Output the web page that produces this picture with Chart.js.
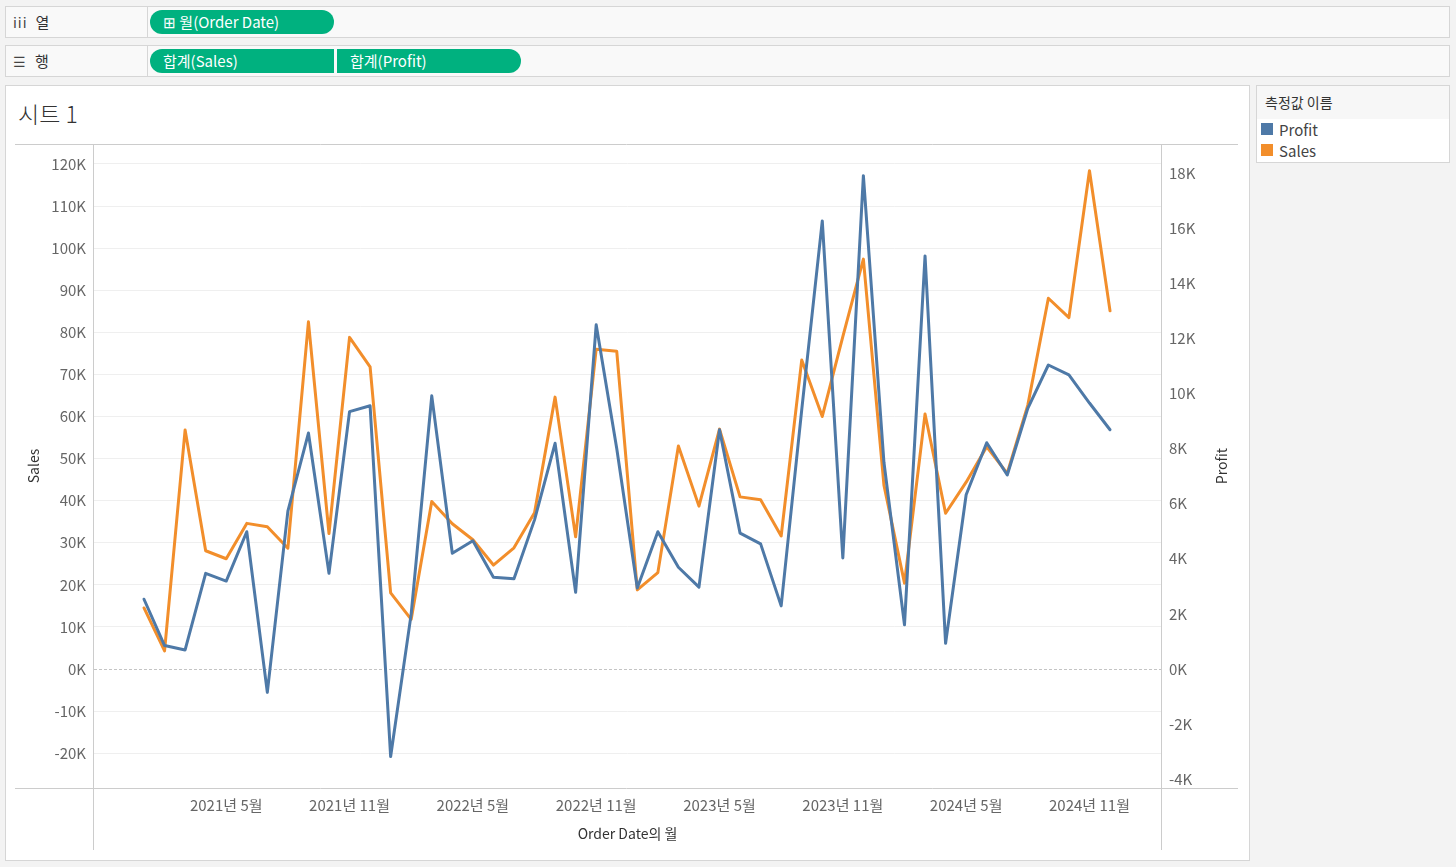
<!DOCTYPE html>
<html>
<head>
<meta charset="utf-8">
<script src="https://cdn.jsdelivr.net/npm/chart.js@4"></script>
<style>
  body {
    margin: 0;
    width: 1456px;
    height: 867px;
    overflow: hidden;
    position: relative;
    background: #f3f3f3;
    font-family: "Noto Sans CJK KR", "Noto Sans", sans-serif;
  }
  .shelf {
    position: absolute;
    left: 5px;
    width: 1445px;
    height: 32px;
    box-sizing: border-box;
    background: #f9f9f9;
    border: 1px solid #d6d6d6;
  }
  .shelf .lbl {
    position: absolute;
    left: 0;
    top: 0;
    width: 142px;
    height: 30px;
    box-sizing: border-box;
    border-right: 1px solid #d6d6d6;
    padding-left: 7px;
    font-size: 15px;
    line-height: 30px;
    color: #333;
  }
  .shelf .lbl b {
    font-weight: normal;
    color: #444;
    font-size: 14px;
    margin-right: 8px;
    letter-spacing: 1px;
  }
  .pill {
    position: absolute;
    top: 3px;
    height: 24px;
    box-sizing: border-box;
    background: #00b17f;
    color: #fff;
    font-size: 15px;
    line-height: 24px;
    padding-left: 13px;
    border-radius: 12px;
  }
  .sheet {
    position: absolute;
    left: 5px;
    top: 85px;
    width: 1245px;
    height: 776px;
    box-sizing: border-box;
    background: #fff;
    border: 1px solid #d6d6d6;
  }
  .sheet .title {
    position: absolute;
    left: 12px;
    top: 10px;
    font-size: 23px;
    font-weight: 300;
    color: #333;
  }
  .legend {
    position: absolute;
    left: 1256px;
    top: 85px;
    width: 194px;
    height: 78px;
    box-sizing: border-box;
    background: #fff;
    border: 1px solid #d6d6d6;
  }
  .legend .head {
    height: 33px;
    background: #f7f7f7;
    font-size: 14px;
    line-height: 33px;
    padding-left: 8px;
    color: #333;
  }
  .legend .item {
    height: 21px;
    font-size: 15px;
    line-height: 21px;
    color: #444;
    padding-left: 22px;
    position: relative;
  }
  .legend .item i {
    position: absolute;
    left: 4px;
    top: 4px;
    width: 12px;
    height: 12px;
  }
  #chart {
    position: absolute;
    left: 15px;
    top: 144px;
  }
</style>
</head>
<body>
<div class="shelf" style="top:6px">
  <div class="lbl"><b>iii</b>열</div>
  <div class="pill" style="left:144px;width:184px">&#8862; 월(Order Date)</div>
</div>
<div class="shelf" style="top:45px">
  <div class="lbl"><b>&#9776;</b>행</div>
  <div class="pill" style="left:144px;width:184px;border-radius:12px 0 0 12px">합계(Sales)</div>
  <div class="pill" style="left:331px;width:184px;border-radius:0 12px 12px 0">합계(Profit)</div>
</div>
<div class="sheet"><div class="title">시트 1</div></div>
<div class="legend">
  <div class="head">측정값 이름</div>
  <div class="item"><i style="background:#4e79a7"></i>Profit</div>
  <div class="item"><i style="background:#f28e2b"></i>Sales</div>
</div>
<canvas id="chart" width="1223" height="706"></canvas>

<script>
// months Jan 2021 .. Dec 2024
const months = [];
for (let y = 2021; y <= 2024; y++) {
  for (let m = 1; m <= 12; m++) months.push(`${y}년 ${m}월`);
}

const sales = [
  14500, 4300, 56800, 28100, 26200, 34600, 33800, 28700, 82500, 32200, 78800, 71800,
  18100, 11800, 39800, 34500, 30700, 24700, 28800, 37100, 64600, 31400, 76000, 75500,
  18800, 22900, 53000, 38700, 57000, 40900, 40200, 31600, 73400, 60000, 79000, 97400,
  43700, 20400, 60600, 37000, 44400, 52800, 46500, 62700, 88100, 83500, 118400, 85100
];

const profit = [
  2530, 850, 690, 3470, 3190, 4980, -850, 5730, 8560, 3470, 9340, 9550,
  -3180, 2000, 9910, 4200, 4650, 3330, 3270, 5410, 8190, 2780, 12490, 8000,
  2940, 4980, 3690, 2970, 8680, 4930, 4540, 2290, 9400, 16260, 4030, 17900,
  7500, 1600, 14990, 930, 6320, 8210, 7040, 9460, 11030, 10670, 9650, 8680
];

// month indexes that get a label on the x axis
const xTickIdx = [4, 10, 16, 22, 28, 34, 40, 46];
const salesTicks = [-20000, -10000, 0, 10000, 20000, 30000, 40000, 50000, 60000,
  70000, 80000, 90000, 100000, 110000, 120000];
const profitTicks = [-4000, -2000, 0, 2000, 4000, 6000, 8000, 10000, 12000,
  14000, 16000, 18000];

const FONT = '"Noto Sans CJK KR", "Noto Sans", sans-serif';
const kFmt = v => (v / 1000) + 'K';

const frame = {
  id: 'frame',
  beforeDatasetsDraw(chart) {
    const {ctx, chartArea: a, scales} = chart;
    const y0 = Math.round(scales.y.getPixelForValue(0)) + 0.5;
    ctx.save();
    ctx.strokeStyle = '#c4c4c4';
    ctx.lineWidth = 1;
    ctx.setLineDash([3, 2]);
    ctx.beginPath();
    ctx.moveTo(a.left, y0);
    ctx.lineTo(a.right, y0);
    ctx.stroke();
    ctx.restore();
  },
  afterDraw(chart) {
    const {ctx, chartArea: a, width, height} = chart;
    ctx.save();
    ctx.strokeStyle = '#cccccc';
    ctx.lineWidth = 1;
    ctx.beginPath();
    ctx.moveTo(0, 0.5); ctx.lineTo(width, 0.5);
    ctx.moveTo(0, a.bottom + 0.5); ctx.lineTo(width, a.bottom + 0.5);
    ctx.moveTo(a.left - 0.5, 0); ctx.lineTo(a.left - 0.5, height);
    ctx.moveTo(a.right + 0.5, 0); ctx.lineTo(a.right + 0.5, height);
    ctx.stroke();
    // right axis title reads bottom to top like the left one
    ctx.translate(1207, (a.top + a.bottom) / 2);
    ctx.rotate(-Math.PI / 2);
    ctx.fillStyle = '#333';
    ctx.font = '14px ' + FONT;
    ctx.textAlign = 'center';
    ctx.textBaseline = 'middle';
    ctx.fillText('Profit', 0, 0);
    ctx.restore();
  }
};

// fixed axis sizes, no extra label overhang padding
function fixV(w) {
  return s => { s.width = w; s.paddingTop = 0; s.paddingBottom = 0; };
}

new Chart(document.getElementById('chart'), {
  type: 'line',
  data: {
    datasets: [
      {
        label: 'Profit',
        data: profit.map((v, i) => ({x: i, y: v})),
        yAxisID: 'y1',
        borderColor: '#4e79a7',
        borderWidth: 3,
        borderJoinStyle: 'round',
        borderCapStyle: 'round',
        pointRadius: 0,
        tension: 0,
      },
      {
        label: 'Sales',
        data: sales.map((v, i) => ({x: i, y: v})),
        yAxisID: 'y',
        borderColor: '#f28e2b',
        borderWidth: 3,
        borderJoinStyle: 'round',
        borderCapStyle: 'round',
        pointRadius: 0,
        tension: 0,
      },
    ]
  },
  options: {
    responsive: false,
    animation: false,
    events: [],
    layout: {padding: 0},
    plugins: {
      legend: {display: false},
      tooltip: {enabled: false},
    },
    scales: {
      x: {
        type: 'linear',
        min: -2.433,
        max: 49.48,
        afterBuildTicks: s => { s.ticks = xTickIdx.map(v => ({value: v})); },
        afterFit: s => { s.height = 62; s.paddingLeft = 0; s.paddingRight = 0; },
        border: {display: false},
        grid: {display: false},
        ticks: {
          autoSkip: false,
          maxRotation: 0,
          padding: 0,
          color: '#666',
          font: {family: FONT, size: 15},
          callback: v => months[v],
        },
        title: {
          display: true,
          text: 'Order Date의 월',
          color: '#333',
          font: {family: FONT, size: 14},
          padding: {top: 0, bottom: 8},
        },
      },
      y: {
        position: 'left',
        min: -28280,
        max: 124750,
        afterBuildTicks: s => { s.ticks = salesTicks.map(v => ({value: v})); },
        afterFit: fixV(79),
        border: {display: false},
        grid: {
          color: c => c.tick && c.tick.value === 0 ? 'rgba(0,0,0,0)' : '#efefef',
          drawTicks: false,
        },
        ticks: {
          padding: 8,
          color: '#666',
          font: {family: FONT, size: 15},
          callback: kFmt,
        },
        title: {
          display: true,
          text: 'Sales',
          color: '#333',
          font: {family: FONT, size: 14},
          padding: {top: 10, bottom: 0},
        },
      },
      y1: {
        position: 'right',
        min: -4320,
        max: 19050,
        afterBuildTicks: s => { s.ticks = profitTicks.map(v => ({value: v})); },
        afterFit: fixV(77),
        border: {display: false},
        grid: {drawOnChartArea: false, drawTicks: false},
        ticks: {
          padding: 8,
          color: '#666',
          font: {family: FONT, size: 15},
          callback: kFmt,
        },
      },
    }
  },
  plugins: [frame]
});
</script>
</body>
</html>
